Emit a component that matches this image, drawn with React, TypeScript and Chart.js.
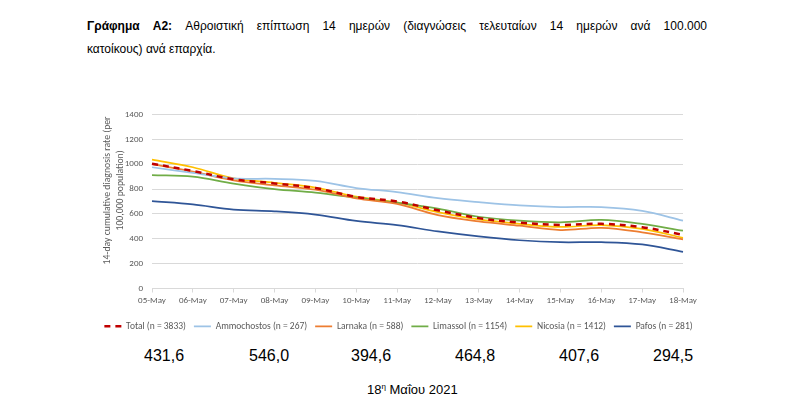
import React, { useEffect, useRef } from "react";
import { Chart, registerables } from "chart.js";

Chart.register(...registerables);

const categories = ["05-May", "06-May", "07-May", "08-May", "09-May", "10-May", "11-May", "12-May", "13-May", "14-May", "15-May", "16-May", "17-May", "18-May"];
const totalValues = [1004, 945, 878, 845, 808, 737, 700, 629, 566, 530, 511, 520, 493, 431.6];
const ammochostosValues = [975, 930, 886, 882, 865, 808, 775, 726, 695, 669, 655, 655, 624, 546.0];
const larnakaValues = [1000, 940, 870, 830, 795, 725, 680, 590, 540, 505, 470, 488, 452, 394.6];
const limassolValues = [912, 899, 844, 800, 771, 730, 690, 642, 577, 545, 532, 551, 519, 464.8];
const nicosiaValues = [1036, 975, 885, 850, 812, 738, 692, 615, 555, 520, 495, 510, 480, 407.6];
const pafosValues = [702, 676, 634, 621, 595, 543, 509, 459, 419, 388, 372, 372, 354, 294.5];
const seriesLabels = ["Total (n = 3833)", "Ammochostos (n = 267)", "Larnaka (n = 588)", "Limassol (n = 1154)", "Nicosia (n = 1412)", "Pafos (n = 281)"];
const latestValues = ["431,6", "546,0", "394,6", "464,8", "407,6", "294,5"];
const yTitle = ["14-day cumulative diagnosis rate (per", "100,000 population)"];

const CHART_FONT = "Carlito, Lato, 'Open Sans', sans-serif";
const GREY = "#595959";

const yTitlePlugin = {
  id: "yTitleText",
  afterDraw(chart: any) {
    const ctx = chart.ctx;
    const area = chart.chartArea;
    ctx.save();
    ctx.font = `10px ${CHART_FONT}`;
    const w = ctx.measureText(yTitle[0]).width;
    const size = Math.min(11, (10 * 148) / w);
    ctx.font = `${size}px ${CHART_FONT}`;
    ctx.fillStyle = GREY;
    ctx.textAlign = "center";
    ctx.textBaseline = "middle";
    const cy = (area.top + area.bottom) / 2 - 11;
    ctx.translate(108, cy);
    ctx.rotate(-Math.PI / 2);
    yTitle.forEach((line, i) => ctx.fillText(line, 0, i * 13));
    ctx.restore();
  },
};

function CaseChart() {
  const ref = useRef<HTMLCanvasElement | null>(null);
  useEffect(() => {
    if (!ref.current) return;
    const mk = (label: string, data: number[], color: string, width: number, dash: number[] = []) => ({
      label,
      data,
      borderColor: color,
      backgroundColor: color,
      borderWidth: width,
      borderDash: dash,
      pointRadius: 0,
      tension: 0.35,
      fill: false,
      yAxisID: "y",
    });
    const chart = new Chart(ref.current, {
      type: "line",
      data: {
        labels: categories,
        datasets: [
          mk(seriesLabels[0], totalValues, "#C00000", 2.5, [6, 5]),
          mk(seriesLabels[1], ammochostosValues, "#9DC3E6", 1.75),
          mk(seriesLabels[2], larnakaValues, "#ED7D31", 1.75),
          mk(seriesLabels[3], limassolValues, "#70AD47", 1.75),
          mk(seriesLabels[4], nicosiaValues, "#FFC000", 1.75),
          mk(seriesLabels[5], pafosValues, "#2F5597", 1.75),
        ],
      },
      plugins: [yTitlePlugin],
      options: {
        responsive: false,
        animation: false,
        layout: { padding: { top: 12, right: 0, left: 0, bottom: 0 } },
        plugins: {
          tooltip: { enabled: false },
          legend: {
            position: "bottom",
            labels: {
              usePointStyle: true,
              pointStyle: "line",
              pointStyleWidth: 17,
              padding: 8,
              color: GREY,
              font: { family: CHART_FONT, size: 9.5 },
              generateLabels: (c: any) =>
                c.data.datasets.map((ds: any, i: number) => ({
                  text: ds.label,
                  fillStyle: ds.borderColor,
                  strokeStyle: ds.borderColor,
                  lineWidth: ds.borderWidth,
                  lineDash: ds.borderDash,
                  lineCap: "butt",
                  pointStyle: "line",
                  fontColor: GREY,
                  hidden: false,
                  datasetIndex: i,
                })),
            },
          },
        },
        scales: {
          x: {
            afterFit: (s: any) => { s.height = 25; },
            grid: { display: true, drawOnChartArea: false, drawTicks: true, tickLength: 4, color: "#D9D9D9" },
            border: { display: true, color: "#D9D9D9" },
            ticks: { color: GREY, font: { family: CHART_FONT, size: 9 }, padding: 3, maxRotation: 0, autoSkip: false },
          },
          y: {
            min: 0,
            max: 1400,
            position: "left",
            afterFit: (s: any) => { s.width = 152; },
            ticks: { stepSize: 200, color: GREY, font: { family: CHART_FONT, size: 9 }, padding: 9, callback: (v: any) => String(v) },
            grid: { color: "#D9D9D9", drawTicks: false },
            border: { display: false },
          },
          yRight: {
            position: "right",
            min: 0,
            max: 1400,
            afterFit: (s: any) => { s.width = 114; },
            ticks: { display: false },
            grid: { display: false, drawTicks: false },
            border: { display: false },
          },
        },
      },
    } as any);
    return () => chart.destroy();
  }, []);
  return <canvas ref={ref} width={797} height={241} style={{ display: "block", width: 797, height: 241 }} />;
}

export default function App() {
  const numLefts = [144, 249, 351, 455, 559, 653];
  return (
    <div style={{ position: "fixed", left: 0, top: 0, width: 797, height: 395, background: "#fff", overflow: "hidden", fontFamily: "'Liberation Sans', Arial, sans-serif", color: "#000" }}>
      <div style={{ position: "absolute", left: 87, top: 19, width: 620, fontSize: 12, lineHeight: "15px", textAlign: "justify", textAlignLast: "justify" as any }}>
        <b>Γράφημα A2:</b> Αθροιστική επίπτωση 14 ημερών (διαγνώσεις τελευταίων 14 ημερών ανά 100.000
      </div>
      <div style={{ position: "absolute", left: 87, top: 42, fontSize: 12, lineHeight: "15px", whiteSpace: "nowrap" }}>
        κατοίκους) ανά επαρχία.
      </div>
      <div style={{ position: "absolute", left: 0, top: 100 }}>
        <CaseChart />
      </div>
      {latestValues.map((v, i) => (
        <div key={i} style={{ position: "absolute", left: numLefts[i], top: 346, fontSize: 16, lineHeight: "19px", whiteSpace: "nowrap" }}>{v}</div>
      ))}
      <div style={{ position: "absolute", left: 367, top: 382, fontSize: 13, lineHeight: "16px", whiteSpace: "nowrap" }}>
        18<sup style={{ fontSize: 8, verticalAlign: "top", lineHeight: "10px" }}>η</sup> Μαΐου 2021
      </div>
    </div>
  );
}
